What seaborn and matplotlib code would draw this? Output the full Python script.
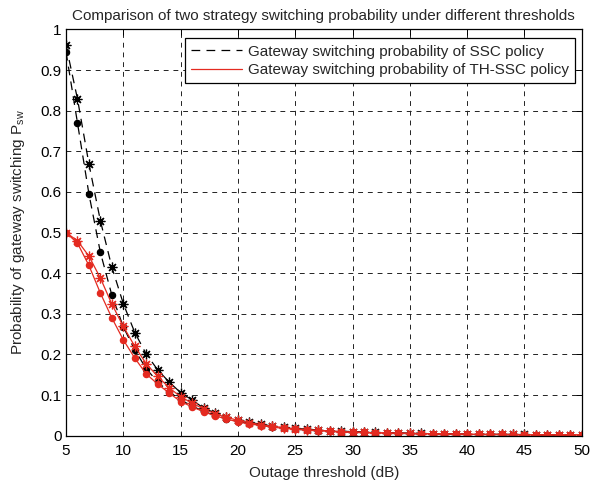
import numpy as np
import pandas as pd
import seaborn as sns
import matplotlib
matplotlib.use("Agg")
import matplotlib.pyplot as plt
from matplotlib.lines import Line2D

thresholds = list(range(5, 51))

ssc_star = [0.961, 0.829, 0.669, 0.529, 0.415, 0.325, 0.254, 0.201, 0.162, 0.132,
            0.106, 0.088, 0.068, 0.056, 0.047, 0.039, 0.033, 0.028, 0.024, 0.021,
            0.018, 0.016, 0.014, 0.012, 0.011, 0.010, 0.009, 0.008, 0.007, 0.007,
            0.006, 0.006, 0.005, 0.005, 0.004, 0.004, 0.004, 0.003, 0.003, 0.003,
            0.003, 0.002, 0.002, 0.002, 0.002, 0.002]
ssc_dot = [0.945, 0.770, 0.595, 0.451, 0.346, 0.268, 0.211, 0.165, 0.132, 0.108,
           0.088, 0.073, 0.060, 0.050, 0.042, 0.035, 0.030, 0.026, 0.022, 0.019,
           0.016, 0.014, 0.012, 0.011, 0.010, 0.009, 0.008, 0.007, 0.006, 0.006,
           0.005, 0.005, 0.004, 0.004, 0.004, 0.003, 0.003, 0.003, 0.003, 0.002,
           0.002, 0.002, 0.002, 0.002, 0.002, 0.002]
th_star = [0.500, 0.480, 0.442, 0.388, 0.324, 0.269, 0.220, 0.177, 0.146, 0.118,
           0.096, 0.080, 0.066, 0.054, 0.045, 0.038, 0.032, 0.027, 0.023, 0.020,
           0.017, 0.015, 0.013, 0.012, 0.010, 0.009, 0.008, 0.007, 0.007, 0.006,
           0.006, 0.005, 0.005, 0.004, 0.004, 0.004, 0.003, 0.003, 0.003, 0.003,
           0.002, 0.002, 0.002, 0.002, 0.002, 0.002]
th_dot = [0.500, 0.474, 0.419, 0.351, 0.290, 0.236, 0.191, 0.152, 0.127, 0.105,
          0.084, 0.071, 0.059, 0.049, 0.041, 0.034, 0.029, 0.025, 0.021, 0.018,
          0.016, 0.014, 0.012, 0.011, 0.009, 0.008, 0.008, 0.007, 0.006, 0.006,
          0.005, 0.005, 0.004, 0.004, 0.004, 0.003, 0.003, 0.003, 0.003, 0.002,
          0.002, 0.002, 0.002, 0.002, 0.002, 0.002]

legend_labels = ["Gateway switching probability of SSC policy",
                 "Gateway switching probability of TH-SSC policy"]
ytick_labels = ["0", "0.1", "0.2", "0.3", "0.4", "0.5", "0.6", "0.7", "0.8", "0.9", "1"]

sns.set_style("white")
plt.rcParams["font.family"] = ["Liberation Sans", "DejaVu Sans"]
plt.rcParams["mathtext.fontset"] = "custom"
plt.rcParams["mathtext.rm"] = "Liberation Sans"
plt.rcParams["mathtext.it"] = "Liberation Sans"

RED = "#e42a20"
FS = 11
fig = plt.figure(figsize=(5.91, 4.82), dpi=100)
ax = fig.add_axes([0.1117, 0.0961, 0.8726, 0.8427])

asterisk = (8, 2, 0)
series = [
    (ssc_star, "black", asterisk, 7, True),
    (ssc_dot, "black", "o", 4.5, True),
    (th_star, RED, asterisk, 7, False),
    (th_dot, RED, "o", 4.5, False),
]
for vals, col, mk, ms, dashed in series:
    sns.lineplot(x=thresholds, y=vals, ax=ax, color=col, marker=mk, markersize=ms,
                 markeredgecolor=col, markerfacecolor=col, markeredgewidth=0.9,
                 linewidth=0.9, linestyle="--" if dashed else "-")
    if dashed:
        ax.lines[-1].set_dashes((7, 5))

ax.set_xlim(5, 50)
ax.set_ylim(0, 1)
ax.set_xticks(np.arange(5, 51, 5))
ax.set_yticks(np.arange(0, 1.01, 0.1))
ax.set_yticklabels(ytick_labels)
ax.grid(True, color="#222222", linestyle=(0, (5, 5)), linewidth=0.7)
ax.tick_params(direction="in", length=4, width=0.7, top=True, right=True,
               labelsize=FS, colors="black")
ax.tick_params(axis="x", pad=6)
ax.tick_params(axis="y", pad=3)
for s in ax.spines.values():
    s.set_color("black")
    s.set_linewidth(0.9)

ax.set_title("Comparison of two strategy switching probability under different thresholds",
             fontsize=FS, pad=7)
ax.set_xlabel("Outage threshold (dB)", fontsize=FS, labelpad=6)
ax.set_ylabel(r"Probability of gateway switching P$_{\mathrm{sw}}$", fontsize=FS, labelpad=10)

h1 = Line2D([], [], color="black", linewidth=0.9, linestyle="--", dashes=(7, 5))
h2 = Line2D([], [], color=RED, linewidth=0.9)
leg = ax.legend([h1, h2], legend_labels, loc="upper right", bbox_to_anchor=(0.987, 0.978),
                borderaxespad=0, fancybox=False, framealpha=1, edgecolor="black",
                fontsize=FS, handlelength=3.3, handletextpad=0.4, borderpad=0.4,
                labelspacing=0.3)
leg.get_frame().set_linewidth(0.9)

fig.savefig("out.png", dpi=100, facecolor="white")
